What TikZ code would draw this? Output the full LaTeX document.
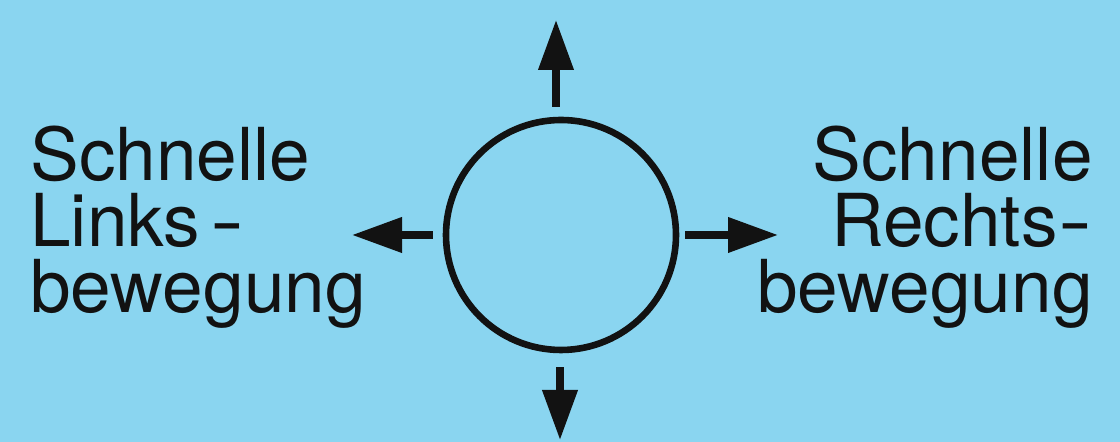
\documentclass[tikz,border=0pt]{standalone}
\usepackage{fontspec}
\setmainfont{TeX Gyre Heros}
\usepackage{xcolor}
\definecolor{himmelBg}{HTML}{8AD5F0}
\definecolor{tusche}{HTML}{121212}
\usetikzlibrary{arrows.meta, positioning}
\newcommand{\Trennstrich}{\scalebox{1.4}[1]{-}}
\tikzset{
  %% ── Kreis und Pfeile ─────────────────────────────────────────────────
  kreis/.style        = {circle, draw=tusche, line width=3.3pt,
                         minimum size=115pt, inner sep=0pt},
  pfeil/.style        = {-{Triangle[length=25pt, width=17pt]}, draw=tusche,
                         line width=3.6pt},
  %%
  %% ── Text ─────────────────────────────────────────────────────────────
  beschriftung/.style = {text=tusche, font=\fontsize{36.5}{33}\selectfont,
                         inner sep=0pt},
}

\begin{document}
\begin{tikzpicture}[x=1pt, y=1pt]

%% Hintergrund, zugleich Rahmen des Bildes.
\fill[himmelBg] (0,0) rectangle (560,221);
\useasboundingbox (0,0) rectangle (560,221);

%% Der Kreis in der Mitte.
\node[kreis] (rad) at (280.5,103.5) {};

%% Die vier Pfeilspitzen.
\coordinate (spitzeO) at (278,211);
\coordinate (spitzeU) at (280,1);
\coordinate (spitzeL) at (176,103.5);
\coordinate (spitzeR) at (389,103.5);

\draw[pfeil, shorten <=5pt] (rad.north -| spitzeO) -- (spitzeO);
\draw[pfeil, shorten <=7pt] (rad.south -| spitzeU) -- (spitzeU);
\draw[pfeil, shorten <=5pt] (rad.west) -- (spitzeL);
\draw[pfeil, shorten <=3pt] (rad.east) -- (spitzeR);

%% Die beiden Beschriftungen.
\node[beschriftung, anchor=north west, align=left] (links) at (15,158)
     {Schnelle\\Links\kern5pt\Trennstrich\\bewegung};
\node[beschriftung, anchor=north east, align=right] (rechts) at (546.5,158)
     {Schnelle\\Rechts\kern0.5pt\Trennstrich\\bewegung};

\end{tikzpicture}
\end{document}
